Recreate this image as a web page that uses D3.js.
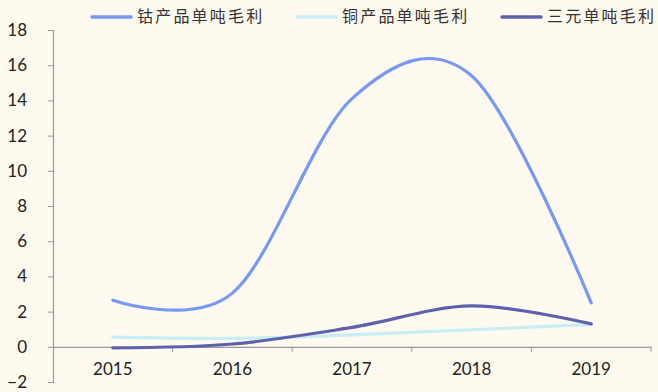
<!DOCTYPE html>
<html>
<head>
<meta charset="utf-8">
<script src="https://cdn.jsdelivr.net/npm/d3@7"></script>
<style>
  html, body { margin: 0; padding: 0; background: #FEFAF0; }
  svg { display: block; }
  .tick text { font-family: Lato, "DejaVu Sans", sans-serif; font-size: 17px; fill: #222; }
  .legend text { font-family: "Noto Sans CJK SC", sans-serif; font-size: 16px; fill: #333; letter-spacing: 2.2px; }
</style>
</head>
<body>
<svg id="chart" width="658" height="392"></svg>
<script>
// Gross profit per tonne, by product and year
const years = ["2015", "2016", "2017", "2018", "2019"];
const cobalt = [2.65, 3.05, 14.1, 15.4, 2.5];
const copper = [0.55, 0.48, 0.68, 0.97, 1.27];
const ternary = [-0.06, 0.16, 1.1, 2.32, 1.3];
const seriesNames = ["钴产品单吨毛利", "铜产品单吨毛利", "三元单吨毛利"];
const yTicks = [-2, 0, 2, 4, 6, 8, 10, 12, 14, 16, 18];

const colors = ["#7799F3", "#C9EDF5", "#5D61AE"];
const series = [cobalt, copper, ternary];

const svg = d3.select("#chart");

const x = d3.scaleBand().domain(years).range([53, 651]);
const y = d3.scaleLinear().domain([-2, 18]).range([382, 30]);

// Y axis
const yAxis = svg.append("g")
  .attr("transform", "translate(53,0)")
  .call(d3.axisLeft(y).tickValues(yTicks).tickSize(5).tickPadding(21)
    .tickFormat(d => d < 0 ? "\u2212" + Math.abs(d) : d));
yAxis.select(".domain").attr("stroke", "#999").attr("stroke-width", 1.2);
yAxis.selectAll(".tick line").attr("stroke", "#999");

// X axis sits on the zero line, ticks at category boundaries
const xAxis = svg.append("g")
  .attr("transform", `translate(0,${y(0)})`)
  .call(d3.axisBottom(x).tickSize(0).tickPadding(16));
xAxis.select(".domain").attr("stroke", "#999").attr("stroke-width", 1.2);
xAxis.selectAll(".tick text").attr("dy", "0.71em");
const bounds = years.map(d => x(d)).concat([x.range()[1]]).slice(1);
xAxis.selectAll(".bound").data(bounds).join("line")
  .attr("class", "bound")
  .attr("x1", d => d).attr("x2", d => d)
  .attr("y1", 0).attr("y2", 5)
  .attr("stroke", "#999");

// Smoothed lines
const line = d3.line()
  .x((d, i) => x(years[i]) + x.bandwidth() / 2)
  .y(d => y(d))
  .curve(d3.curveCardinal.tension(0));

const drawOrder = [1, 0, 2];
drawOrder.forEach(k => {
  svg.append("path")
    .datum(series[k])
    .attr("d", line)
    .attr("fill", "none")
    .attr("stroke", colors[k])
    .attr("stroke-width", 3.2)
    .attr("stroke-linecap", "round");
});

// Legend
const legendX = [92, 297, 502];
const legend = svg.append("g").attr("class", "legend");
seriesNames.forEach((name, i) => {
  legend.append("line")
    .attr("x1", legendX[i]).attr("x2", legendX[i] + 39)
    .attr("y1", 17).attr("y2", 17)
    .attr("stroke", colors[i]).attr("stroke-width", 3.5)
    .attr("stroke-linecap", "round");
  legend.append("text")
    .attr("x", legendX[i] + 45).attr("y", 18)
    .attr("dominant-baseline", "middle")
    .text(name);
});
</script>
</body>
</html>
